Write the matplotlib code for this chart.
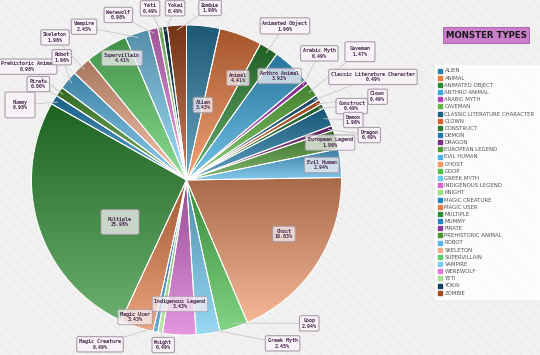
import matplotlib
matplotlib.use("Agg")
import matplotlib.pyplot as plt
import matplotlib.colors as mcolors
from matplotlib.lines import Line2D
from matplotlib.patches import Rectangle
import numpy as np

# data (percent of all entries)
TYPES = ["Alien", "Animal", "Animated Object", "Anthro Animal", "Arabic Myth", "Caveman",
         "Classic Literature Character", "Clown", "Construct", "Demon", "Dragon",
         "European Legend", "Evil Human", "Ghost", "Goop", "Greek Myth", "Indigenous Legend",
         "Knight", "Magic Creature", "Magic User", "Multiple", "Mummy", "Pirate",
         "Prehistoric Animal", "Robot", "Skeleton", "Supervillain", "Vampire", "Werewolf",
         "Yeti", "Yokai", "Zombie"]
PERCENTS = [3.43, 4.41, 1.96, 3.92, 0.49, 1.47,
            0.49, 0.49, 0.49, 1.96, 0.49,
            1.96, 2.94, 18.63, 2.94, 2.45, 3.43,
            0.49, 0.49, 3.43, 25.98, 0.98, 0.00,
            0.98, 1.96, 1.96, 4.41, 2.45, 0.98,
            0.49, 0.49, 1.96]
COLORS = ["#2a7fa8", "#ec7a3c", "#2f8a35", "#3aa8de", "#b43fc0", "#5fb83f",
          "#1d5f82", "#d9622a", "#2a7a30", "#1f7aa8", "#7e2c84",
          "#4e9a33", "#4fb0e3", "#f09868", "#4cc24c", "#6cc8f0", "#d66ad0",
          "#9be07a", "#2386c4", "#e57c45", "#2c8d32", "#1f86bb", "#8e3a9a",
          "#4a9530", "#5ab8e8", "#f2aa88", "#5ccf66", "#78cdf2", "#e07ad8",
          "#a2e48a", "#163f55", "#a84a20"]
TITLE = "Monster Types"

# labels sitting inside their slice (no leader line)
INSIDE = {"Alien": (0.106, 0.484), "Animal": (0.332, 0.658), "Anthro Animal": (0.60, 0.671),
          "Supervillain": (-0.416, 0.787), "Ghost": (0.629, -0.348), "Multiple": (-0.429, -0.271),
          "Indigenous Legend": (-0.042, -0.80), "Magic User": (-0.332, -0.884),
          "Evil Human": (0.872, 0.097), "European Legend": (0.926, 0.241)}
# labels placed outside with a leader line
OUTSIDE = {"Zombie": (0.152, 1.11), "Animated Object": (0.635, 0.994), "Arabic Myth": (0.857, 0.817),
           "Caveman": (1.119, 0.828), "Classic Literature Character": (1.203, 0.665),
           "Clown": (1.233, 0.537), "Construct": (1.066, 0.477), "Demon": (1.076, 0.387),
           "Dragon": (1.179, 0.29), "Goop": (0.792, -0.925), "Greek Myth": (0.62, -1.054),
           "Knight": (-0.15, -1.065), "Magic Creature": (-0.558, -1.06), "Mummy": (-1.074, 0.484),
           "Pirate": (-0.956, 0.619), "Prehistoric Animal": (-1.025, 0.731), "Robot": (-0.805, 0.792),
           "Skeleton": (-0.848, 0.92), "Vampire": (-0.661, 0.989), "Werewolf": (-0.44, 1.065),
           "Yeti": (-0.235, 1.108), "Yokai": (-0.074, 1.108)}
# a few boxes are drawn roomier in the original
ROOMY = {"Multiple": 1.4, "Mummy": 1.5, "Caveman": 0.9}


def shade(color, amount):
    # amount < 0 darkens, > 0 lightens
    rgb = np.array(mcolors.to_rgb(color))
    if amount < 0:
        return rgb * (1 + amount)
    return rgb + (1 - rgb) * amount


fig = plt.figure(figsize=(5.4, 3.55), dpi=100)
fig.patch.set_facecolor("#f1f1f1")

plt.rcParams["hatch.linewidth"] = 0.6
plt.rcParams["hatch.color"] = "#e9e9e9"
bg = fig.add_axes([0, 0, 1, 1], zorder=-5)
bg.axis("off")
bg.add_patch(Rectangle((0, 0), 1, 1, transform=bg.transAxes, facecolor="#f1f1f1",
                       edgecolor="#e9e9e9", hatch="\\\\\\", lw=0))

ax = fig.add_axes([31.5 / 540, 20 / 355, 310 / 540, 310 / 355])
wedges, _ = ax.pie(PERCENTS, colors=COLORS, startangle=90, counterclock=False,
                   wedgeprops=dict(edgecolor="white", linewidth=0.7))

# vertical gradient in each slice: darker at top, lighter at bottom
for w, c in zip(wedges, COLORS):
    verts = w.get_path().vertices
    y0, y1 = verts[:, 1].min(), verts[:, 1].max()
    x0, x1 = verts[:, 0].min(), verts[:, 0].max()
    if y1 - y0 < 1e-6:
        continue
    top = shade(c, -0.3)
    bottom = shade(c, 0.3)
    t = np.linspace(0, 1, 64)[:, None]
    grad = (bottom[None, :] * (1 - t) + top[None, :] * t)[:, None, :]
    im = ax.imshow(grad, extent=[x0, x1, y0, y1], origin="lower", aspect="auto",
                   interpolation="bilinear", zorder=0.5)
    im.set_clip_path(w)
    w.set_facecolor("none")
    w.set_zorder(1)

ax.set_xlim(-1.0, 1.0)
ax.set_ylim(-1.0, 1.0)
ax.set_aspect("equal")
ax.axis("off")


def box(name, inside):
    pad = ROOMY.get(name, 0.45)
    return dict(boxstyle="round,pad=%.2f,rounding_size=0.35" % pad,
                facecolor="#f4f0f4" if inside else "#f7f3f7",
                edgecolor="#a898a8", lw=0.8, alpha=0.75 if inside else 0.95)


for name, pct, w in zip(TYPES, PERCENTS, wedges):
    txt = "%s\n%.2f%%" % (name, pct)
    kw = dict(fontsize=3.6, family="DejaVu Sans Mono", fontweight="bold", color="#4a2a50",
              ha="center", va="center", linespacing=1.2, zorder=5)
    if name in INSIDE:
        ax.text(*INSIDE[name], txt, bbox=box(name, True), **kw)
    else:
        mid = np.deg2rad((w.theta1 + w.theta2) / 2)
        ax.annotate(txt, xy=(0.97 * np.cos(mid), 0.97 * np.sin(mid)), xytext=OUTSIDE[name],
                    bbox=box(name, False), annotation_clip=False,
                    arrowprops=dict(arrowstyle="-", color="#c8c8c8", lw=0.6,
                                    shrinkA=0, shrinkB=0), **kw)

handles = [Line2D([], [], marker="s", linestyle="none", markersize=2.2,
                  markerfacecolor=c, markeredgecolor=c) for c in COLORS]
leg = fig.legend(handles, [t.upper() for t in TYPES], loc="upper left",
                 bbox_to_anchor=(432 / 540, 1 - 62 / 355), fontsize=3.9,
                 labelspacing=0.40, handlelength=0.6, handletextpad=0.5,
                 borderpad=0.7, frameon=True, fancybox=False)
leg.get_frame().set_facecolor("white")
leg.get_frame().set_edgecolor("white")
for t in leg.get_texts():
    t.set_color("#555555")

fig.text(486 / 540, 1 - 35 / 355, TITLE.upper(), fontsize=6.2, fontweight="bold",
         color="#1a1a1a", ha="center", va="center",
         bbox=dict(boxstyle="square,pad=0.35", facecolor="#c97fc9", edgecolor="#a55aa5", lw=0.6))

fig.savefig("out.png", dpi=100, facecolor=fig.get_facecolor())
